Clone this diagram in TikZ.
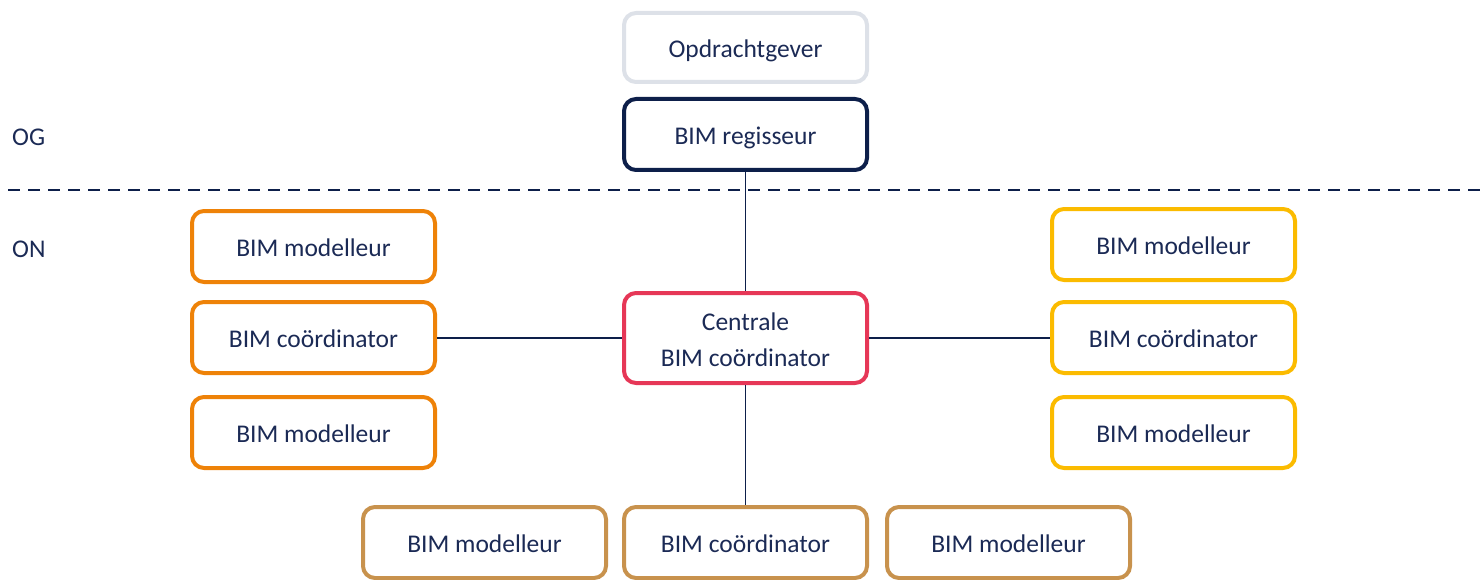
\documentclass[tikz,border=0pt]{standalone}
\usepackage{fontspec}
\setmainfont{Carlito}
\definecolor{navy}{HTML}{0D1F4A}
\definecolor{txt}{HTML}{1B2A55}
\definecolor{greybox}{HTML}{DDE1E8}
\definecolor{orangebox}{HTML}{EE8208}
\definecolor{yellowbox}{HTML}{FBBB00}
\definecolor{redbox}{HTML}{E63757}
\definecolor{brownbox}{HTML}{C8924D}
\begin{document}
\begin{tikzpicture}[x=1pt,y=-1pt,
  boxbase/.style={draw, line width=4pt, rounded corners=12pt, fill=white,
    minimum width=243pt, minimum height=71pt, inner sep=0pt,
    align=center, text=txt, font=\fontsize{25.5}{36}\selectfont},
  role/.style={boxbase, text height=24pt, text depth=4pt},
  label/.style={anchor=west, text=txt, inner sep=0pt, font=\fontsize{25.5}{30}\selectfont},
  link/.style={draw=navy, line width=1.8pt}]
\useasboundingbox (0,0) rectangle (1482,580);

% client side
\node[role, draw=greybox, minimum height=69pt] (og) at (745.5,47.5) {Opdrachtgever};
\node[role, draw=navy] (reg) at (745.5,134.5) {BIM regisseur};

% boundary between client and contractor
\draw[navy, line width=2.5pt, dash pattern=on 12pt off 8pt] (8,190) -- (1482,190);
\node[label] (lblog) at (12,137) {OG};
\node[label] (lblon) at (12,249) {ON};

% central coordinator
\node[boxbase, draw=redbox, minimum height=90pt] (cen) at (745.5,338) {\rule{0pt}{22pt}Centrale\\BIM coördinator};

% left team
\node[role, draw=orangebox] (lm1) at (313.5,246.5) {BIM modelleur};
\node[role, draw=orangebox] (lc) at (313.5,337.5) {BIM coördinator};
\node[role, draw=orangebox] (lm2) at (313.5,432.5) {BIM modelleur};

% right team
\node[role, draw=yellowbox] (rm1) at (1173.5,244.5) {BIM modelleur};
\node[role, draw=yellowbox] (rc) at (1173.5,337.5) {BIM coördinator};
\node[role, draw=yellowbox] (rm2) at (1173.5,432.5) {BIM modelleur};

% bottom team
\node[role, draw=brownbox] (bm1) at (484.5,542.5) {BIM modelleur};
\node[role, draw=brownbox] (bc) at (745.5,542.5) {BIM coördinator};
\node[role, draw=brownbox] (bm2) at (1008.5,542.5) {BIM modelleur};

% connectors
\draw[link] (reg.south) -- (cen.north);
\draw[link] (cen.west) -- (lc.east |- cen.west);
\draw[link] (cen.east) -- (rc.west |- cen.east);
\draw[link] (cen.south) -- (bc.north);
\end{tikzpicture}
\end{document}
